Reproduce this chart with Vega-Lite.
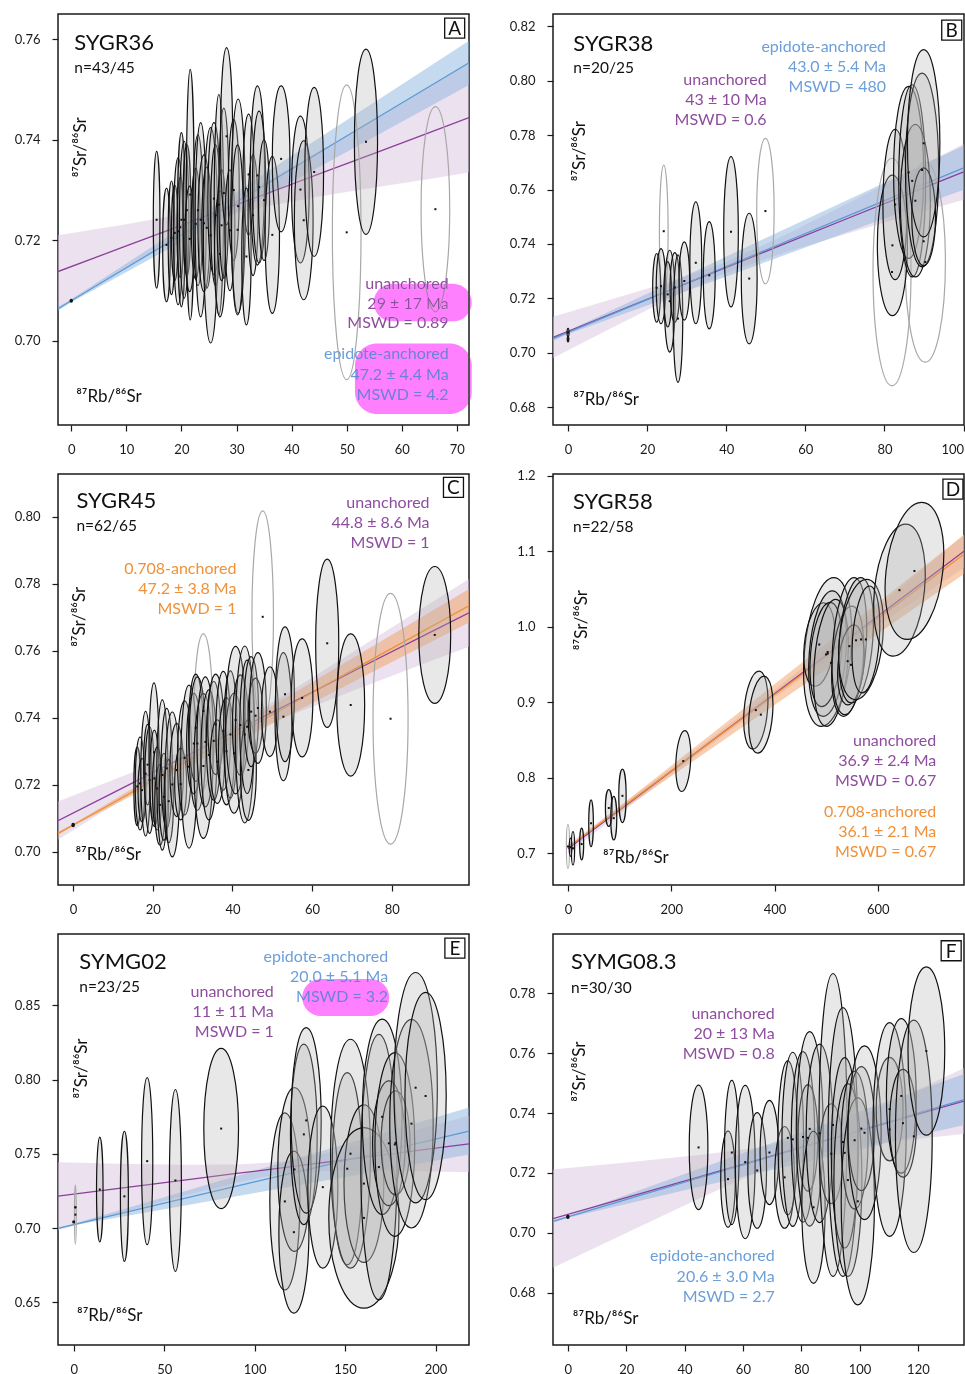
{
"$schema": "https://vega.github.io/schema/vega-lite/v6.json",
"background": "white",
"padding": {"left": 13, "top": 13, "right": 0, "bottom": 0},
"bounds": "flush",
"columns": 2,
"spacing": {"row": 49, "column": 84},
"datasets": {
"fits": [
{"p":"A","f":"u","x":-2.4,"y":0.7138,"lo":0.7066,"hi":0.7210},
{"p":"A","f":"u","x":10,"y":0.7189,"lo":0.7146,"hi":0.7232},
{"p":"A","f":"u","x":20,"y":0.7230,"lo":0.7208,"hi":0.7252},
{"p":"A","f":"u","x":27,"y":0.7259,"lo":0.7244,"hi":0.7274},
{"p":"A","f":"u","x":35,"y":0.7291,"lo":0.7267,"hi":0.7315},
{"p":"A","f":"u","x":45,"y":0.7332,"lo":0.7287,"hi":0.7377},
{"p":"A","f":"u","x":55,"y":0.7373,"lo":0.7305,"hi":0.7441},
{"p":"A","f":"u","x":65,"y":0.7414,"lo":0.7322,"hi":0.7506},
{"p":"A","f":"u","x":72.2,"y":0.7444,"lo":0.7335,"hi":0.7553},
{"p":"A","f":"e","x":-2.4,"y":0.7064,"lo":0.7060,"hi":0.7068},
{"p":"A","f":"e","x":0,"y":0.7080,"lo":0.7077,"hi":0.7083},
{"p":"A","f":"e","x":20,"y":0.7211,"lo":0.7197,"hi":0.7225},
{"p":"A","f":"e","x":40,"y":0.7342,"lo":0.7316,"hi":0.7368},
{"p":"A","f":"e","x":60,"y":0.7473,"lo":0.7436,"hi":0.7510},
{"p":"A","f":"e","x":72.2,"y":0.7553,"lo":0.7509,"hi":0.7597},
{"p":"B","f":"u","x":-3.8,"y":0.7057,"lo":0.6981,"hi":0.7133},
{"p":"B","f":"u","x":10,"y":0.7138,"lo":0.7084,"hi":0.7192},
{"p":"B","f":"u","x":25,"y":0.7226,"lo":0.7194,"hi":0.7258},
{"p":"B","f":"u","x":40,"y":0.7314,"lo":0.7294,"hi":0.7334},
{"p":"B","f":"u","x":55,"y":0.7402,"lo":0.7370,"hi":0.7434},
{"p":"B","f":"u","x":70,"y":0.7490,"lo":0.7436,"hi":0.7544},
{"p":"B","f":"u","x":85,"y":0.7578,"lo":0.7500,"hi":0.7656},
{"p":"B","f":"u","x":100,"y":0.7665,"lo":0.7563,"hi":0.7767},
{"p":"B","f":"e","x":-3.8,"y":0.7052,"lo":0.7044,"hi":0.7060},
{"p":"B","f":"e","x":0,"y":0.7075,"lo":0.7069,"hi":0.7081},
{"p":"B","f":"e","x":25,"y":0.7226,"lo":0.7201,"hi":0.7251},
{"p":"B","f":"e","x":50,"y":0.7378,"lo":0.7334,"hi":0.7422},
{"p":"B","f":"e","x":75,"y":0.7529,"lo":0.7467,"hi":0.7591},
{"p":"B","f":"e","x":100,"y":0.7680,"lo":0.7599,"hi":0.7761},
{"p":"C","f":"u","x":-3.8,"y":0.7093,"lo":0.7036,"hi":0.7150},
{"p":"C","f":"u","x":10,"y":0.7176,"lo":0.7138,"hi":0.7214},
{"p":"C","f":"u","x":20,"y":0.7236,"lo":0.7211,"hi":0.7261},
{"p":"C","f":"u","x":33,"y":0.7314,"lo":0.7299,"hi":0.7329},
{"p":"C","f":"u","x":45,"y":0.7386,"lo":0.7363,"hi":0.7409},
{"p":"C","f":"u","x":60,"y":0.7476,"lo":0.7433,"hi":0.7519},
{"p":"C","f":"u","x":75,"y":0.7567,"lo":0.7502,"hi":0.7632},
{"p":"C","f":"u","x":90,"y":0.7657,"lo":0.7570,"hi":0.7744},
{"p":"C","f":"u","x":99.4,"y":0.7713,"lo":0.7612,"hi":0.7814},
{"p":"C","f":"o","x":-3.8,"y":0.7055,"lo":0.7050,"hi":0.7060},
{"p":"C","f":"o","x":0,"y":0.7080,"lo":0.7077,"hi":0.7083},
{"p":"C","f":"o","x":25,"y":0.7245,"lo":0.7230,"hi":0.7260},
{"p":"C","f":"o","x":50,"y":0.7409,"lo":0.7382,"hi":0.7436},
{"p":"C","f":"o","x":75,"y":0.7574,"lo":0.7536,"hi":0.7612},
{"p":"C","f":"o","x":99.4,"y":0.7734,"lo":0.7684,"hi":0.7784},
{"p":"D","f":"u","x":0,"y":0.7060,"lo":0.7000,"hi":0.7120},
{"p":"D","f":"u","x":200,"y":0.8086,"lo":0.8046,"hi":0.8126},
{"p":"D","f":"u","x":400,"y":0.9112,"lo":0.9062,"hi":0.9162},
{"p":"D","f":"u","x":600,"y":1.0138,"lo":1.0018,"hi":1.0258},
{"p":"D","f":"u","x":767,"y":1.1000,"lo":1.0780,"hi":1.1220},
{"p":"D","f":"o","x":0,"y":0.7080,"lo":0.7075,"hi":0.7085},
{"p":"D","f":"o","x":200,"y":0.8090,"lo":0.8020,"hi":0.8160},
{"p":"D","f":"o","x":400,"y":0.9100,"lo":0.8963,"hi":0.9237},
{"p":"D","f":"o","x":600,"y":1.0110,"lo":0.9906,"hi":1.0314},
{"p":"D","f":"o","x":767,"y":1.0960,"lo":1.0700,"hi":1.1220},
{"p":"E","f":"u","x":-8.7,"y":0.7215,"lo":0.6986,"hi":0.7444},
{"p":"E","f":"u","x":25,"y":0.7267,"lo":0.7101,"hi":0.7433},
{"p":"E","f":"u","x":60,"y":0.7321,"lo":0.7215,"hi":0.7427},
{"p":"E","f":"u","x":90,"y":0.7368,"lo":0.7308,"hi":0.7428},
{"p":"E","f":"u","x":115,"y":0.7406,"lo":0.7366,"hi":0.7446},
{"p":"E","f":"u","x":140,"y":0.7445,"lo":0.7385,"hi":0.7505},
{"p":"E","f":"u","x":170,"y":0.7491,"lo":0.7385,"hi":0.7597},
{"p":"E","f":"u","x":200,"y":0.7538,"lo":0.7381,"hi":0.7695},
{"p":"E","f":"u","x":218.5,"y":0.7567,"lo":0.7377,"hi":0.7757},
{"p":"E","f":"e","x":-8.7,"y":0.6999,"lo":0.6994,"hi":0.7004},
{"p":"E","f":"e","x":0,"y":0.7024,"lo":0.7019,"hi":0.7029},
{"p":"E","f":"e","x":50,"y":0.7168,"lo":0.7128,"hi":0.7208},
{"p":"E","f":"e","x":100,"y":0.7311,"lo":0.7236,"hi":0.7386},
{"p":"E","f":"e","x":150,"y":0.7455,"lo":0.7345,"hi":0.7565},
{"p":"E","f":"e","x":218.5,"y":0.7653,"lo":0.7495,"hi":0.7811},
{"p":"F","f":"u","x":-5.1,"y":0.7047,"lo":0.6883,"hi":0.7211},
{"p":"F","f":"u","x":20,"y":0.7117,"lo":0.6999,"hi":0.7235},
{"p":"F","f":"u","x":45,"y":0.7187,"lo":0.7114,"hi":0.7260},
{"p":"F","f":"u","x":65,"y":0.7243,"lo":0.7202,"hi":0.7284},
{"p":"F","f":"u","x":80,"y":0.7285,"lo":0.7255,"hi":0.7315},
{"p":"F","f":"u","x":100,"y":0.7340,"lo":0.7292,"hi":0.7388},
{"p":"F","f":"u","x":120,"y":0.7396,"lo":0.7314,"hi":0.7478},
{"p":"F","f":"u","x":135.8,"y":0.7440,"lo":0.7330,"hi":0.7550},
{"p":"F","f":"e","x":-5.1,"y":0.7038,"lo":0.7033,"hi":0.7043},
{"p":"F","f":"e","x":0,"y":0.7053,"lo":0.7050,"hi":0.7056},
{"p":"F","f":"e","x":40,"y":0.7169,"lo":0.7142,"hi":0.7196},
{"p":"F","f":"e","x":80,"y":0.7284,"lo":0.7233,"hi":0.7335},
{"p":"F","f":"e","x":120,"y":0.7400,"lo":0.7325,"hi":0.7475},
{"p":"F","f":"e","x":135.8,"y":0.7445,"lo":0.7360,"hi":0.7530}
],
"ell": [
{"p":"A","e":1,"i":0,"x":50,"y":0.7216,"px":[50,52.6,50,47.4],"py":[0.7509,0.7216,0.6923,0.7216]},
{"p":"A","e":2,"i":0,"x":66.1,"y":0.7262,"px":[66.1,68.7,66.1,63.5],"py":[0.7466,0.7262,0.7058,0.7262]},
{"p":"A","e":3,"i":1,"x":0,"y":0.708,"px":[0,0.2,0,-0.2],"py":[0.7083,0.708,0.7077,0.708]},
{"p":"A","e":4,"i":1,"x":15.5,"y":0.7241,"px":[15.5,16.1,15.5,14.9],"py":[0.7377,0.7241,0.7105,0.7241]},
{"p":"A","e":5,"i":1,"x":17.3,"y":0.7191,"px":[17.3,18.0,17.3,16.6],"py":[0.7304,0.7191,0.7078,0.7191]},
{"p":"A","e":6,"i":1,"x":18.2,"y":0.7205,"px":[18.2,18.8,18.2,17.6],"py":[0.7318,0.7205,0.7092,0.7205]},
{"p":"A","e":7,"i":1,"x":18.8,"y":0.7215,"px":[18.8,19.4,18.8,18.2],"py":[0.7310,0.7215,0.7120,0.7215]},
{"p":"A","e":8,"i":1,"x":19.4,"y":0.7218,"px":[19.4,20.25,19.4,18.55],"py":[0.7364,0.7218,0.7072,0.7218]},
{"p":"A","e":9,"i":1,"x":19.8,"y":0.7226,"px":[19.8,20.4,19.8,19.2],"py":[0.7326,0.7226,0.7126,0.7226]},
{"p":"A","e":10,"i":1,"x":20.0,"y":0.7241,"px":[20,20.7,20,19.3],"py":[0.7414,0.7241,0.7068,0.7241]},
{"p":"A","e":11,"i":1,"x":20.5,"y":0.7241,"px":[20.5,21.35,20.5,19.65],"py":[0.7397,0.7241,0.7085,0.7241]},
{"p":"A","e":12,"i":1,"x":21.0,"y":0.726,"px":[21,21.7,21,20.3],"py":[0.739,0.726,0.713,0.726]},
{"p":"A","e":13,"i":1,"x":21.6,"y":0.7291,"px":[21.6,22.3,21.6,20.9],"py":[0.754,0.7291,0.7042,0.7291]},
{"p":"A","e":14,"i":1,"x":21.5,"y":0.7203,"px":[21.5,22.35,21.5,20.65],"py":[0.7308,0.7203,0.7098,0.7203]},
{"p":"A","e":15,"i":1,"x":22.6,"y":0.7233,"px":[22.6,23.4,22.6,21.8],"py":[0.7343,0.7233,0.7123,0.7233]},
{"p":"A","e":16,"i":1,"x":23.0,"y":0.726,"px":[23,23.9,23,22.1],"py":[0.741,0.726,0.711,0.726]},
{"p":"A","e":17,"i":1,"x":23.5,"y":0.7241,"px":[23.5,24.5,23.5,22.5],"py":[0.7434,0.7241,0.7048,0.7241]},
{"p":"A","e":18,"i":1,"x":24.1,"y":0.7234,"px":[24.1,25.2,24.1,23.0],"py":[0.737,0.7234,0.7098,0.7234]},
{"p":"A","e":19,"i":1,"x":24.6,"y":0.7225,"px":[24.6,25.5,24.6,23.7],"py":[0.7345,0.7225,0.7105,0.7225]},
{"p":"A","e":20,"i":1,"x":25.3,"y":0.721,"px":[25.3,26.6,25.3,24.0],"py":[0.7424,0.721,0.6996,0.721]},
{"p":"A","e":21,"i":1,"x":25.9,"y":0.7283,"px":[25.9,27.0,25.9,24.8],"py":[0.7434,0.7283,0.7132,0.7283]},
{"p":"A","e":22,"i":1,"x":26.2,"y":0.725,"px":[26.2,27.1,26.2,25.3],"py":[0.739,0.725,0.711,0.725]},
{"p":"A","e":23,"i":1,"x":26.8,"y":0.7271,"px":[26.8,27.65,26.8,25.95],"py":[0.749,0.7271,0.7052,0.7271]},
{"p":"A","e":24,"i":1,"x":27.0,"y":0.7173,"px":[27,28,27,26],"py":[0.7298,0.7173,0.7048,0.7173]},
{"p":"A","e":25,"i":1,"x":27.3,"y":0.723,"px":[27.3,28.1,27.3,26.5],"py":[0.734,0.723,0.712,0.723]},
{"p":"A","e":26,"i":1,"x":27.7,"y":0.7294,"px":[27.7,28.6,27.7,26.8],"py":[0.7463,0.7294,0.7125,0.7294]},
{"p":"A","e":27,"i":1,"x":28.2,"y":0.7407,"px":[28.2,29.3,28.2,27.1],"py":[0.7583,0.7407,0.7231,0.7407]},
{"p":"A","e":28,"i":1,"x":28.8,"y":0.722,"px":[28.8,29.7,28.8,27.9],"py":[0.734,0.722,0.71,0.722]},
{"p":"A","e":29,"i":1,"x":29.5,"y":0.73,"px":[29.5,30.5,29.5,28.5],"py":[0.744,0.73,0.716,0.73]},
{"p":"A","e":30,"i":1,"x":30.3,"y":0.7268,"px":[30.3,31.6,30.3,29.0],"py":[0.7481,0.7268,0.7055,0.7268]},
{"p":"A","e":31,"i":1,"x":30.2,"y":0.7221,"px":[30.2,31.3,30.2,29.1],"py":[0.739,0.7221,0.7052,0.7221]},
{"p":"A","e":32,"i":1,"x":32.2,"y":0.7331,"px":[32.2,33.2,32.2,31.2],"py":[0.7451,0.7331,0.7211,0.7331]},
{"p":"A","e":33,"i":1,"x":31.8,"y":0.7168,"px":[31.8,32.65,31.8,30.95],"py":[0.7304,0.7168,0.7032,0.7168]},
{"p":"A","e":34,"i":1,"x":33.0,"y":0.725,"px":[33,33.9,33,32.1],"py":[0.737,0.725,0.713,0.725]},
{"p":"A","e":35,"i":1,"x":33.8,"y":0.7329,"px":[33.8,35.1,33.8,32.5],"py":[0.7507,0.7329,0.7151,0.7329]},
{"p":"A","e":36,"i":1,"x":34.1,"y":0.7306,"px":[34.1,35.3,34.1,32.9],"py":[0.7457,0.7306,0.7155,0.7306]},
{"p":"A","e":37,"i":1,"x":35.0,"y":0.728,"px":[35,36,35,34],"py":[0.74,0.728,0.716,0.728]},
{"p":"A","e":38,"i":1,"x":36.5,"y":0.7211,"px":[36.5,37.8,36.5,35.2],"py":[0.7367,0.7211,0.7055,0.7211]},
{"p":"A","e":39,"i":1,"x":38.1,"y":0.7362,"px":[38.1,39.7,38.1,36.5],"py":[0.7507,0.7362,0.7217,0.7362]},
{"p":"A","e":40,"i":1,"x":41.6,"y":0.7301,"px":[41.6,43.2,41.6,40.0],"py":[0.7447,0.7301,0.7155,0.7301]},
{"p":"A","e":41,"i":1,"x":42.2,"y":0.724,"px":[42.2,43.9,42.2,40.5],"py":[0.7398,0.724,0.7082,0.724]},
{"p":"A","e":42,"i":1,"x":44.1,"y":0.7336,"px":[44.1,45.8,44.1,42.4],"py":[0.7504,0.7336,0.7168,0.7336]},
{"p":"A","e":43,"i":1,"x":53.5,"y":0.7396,"px":[53.5,55.6,53.5,51.4],"py":[0.758,0.7396,0.7212,0.7396]},
{"p":"B","e":1,"i":0,"x":24.2,"y":0.7447,"px":[24.2,25.3,24.2,23.1],"py":[0.769,0.7447,0.7204,0.7447]},
{"p":"B","e":2,"i":0,"x":49.9,"y":0.7521,"px":[49.9,52.1,49.9,47.7],"py":[0.7788,0.7521,0.7254,0.7521]},
{"p":"B","e":3,"i":0,"x":81.9,"y":0.7297,"px":[81.9,86.7,81.9,77.1],"py":[0.7715,0.7297,0.6879,0.7297]},
{"p":"B","e":4,"i":0,"x":90.3,"y":0.7334,"px":[90.3,95.4,90.3,85.2],"py":[0.7702,0.7334,0.6966,0.7334]},
{"p":"B","e":5,"i":1,"x":0,"y":0.7075,"px":[0,0.25,0,-0.25],"py":[0.709,0.7075,0.706,0.7075]},
{"p":"B","e":6,"i":1,"x":0,"y":0.705,"px":[0,0.2,0,-0.2],"py":[0.706,0.705,0.704,0.705]},
{"p":"B","e":7,"i":1,"x":22.4,"y":0.7239,"px":[22.4,23.4,22.4,21.4],"py":[0.7365,0.7239,0.7113,0.7239]},
{"p":"B","e":8,"i":1,"x":23.5,"y":0.7245,"px":[23.5,24.7,23.5,22.3],"py":[0.7383,0.7245,0.7107,0.7245]},
{"p":"B","e":9,"i":1,"x":25.7,"y":0.719,"px":[25.7,27.05,25.7,24.35],"py":[0.7377,0.719,0.7003,0.719]},
{"p":"B","e":10,"i":1,"x":25.2,"y":0.7215,"px":[25.2,26.2,25.2,24.2],"py":[0.7335,0.7215,0.7095,0.7215]},
{"p":"B","e":11,"i":1,"x":27.0,"y":0.724,"px":[27,28.2,27,25.8],"py":[0.7368,0.724,0.7112,0.724]},
{"p":"B","e":12,"i":1,"x":27.8,"y":0.7126,"px":[27.8,29,27.8,26.6],"py":[0.736,0.7126,0.6892,0.7126]},
{"p":"B","e":13,"i":1,"x":29.4,"y":0.7264,"px":[29.4,30.75,29.4,28.05],"py":[0.7408,0.7264,0.712,0.7264]},
{"p":"B","e":14,"i":1,"x":32.3,"y":0.7331,"px":[32.3,33.8,32.3,30.8],"py":[0.7555,0.7331,0.7107,0.7331]},
{"p":"B","e":15,"i":1,"x":35.7,"y":0.7285,"px":[35.7,37.2,35.7,34.2],"py":[0.7482,0.7285,0.7088,0.7285]},
{"p":"B","e":16,"i":1,"x":41.2,"y":0.7445,"px":[41.2,43.05,41.2,39.35],"py":[0.7721,0.7445,0.7169,0.7445]},
{"p":"B","e":17,"i":1,"x":45.8,"y":0.7273,"px":[45.8,47.8,45.8,43.8],"py":[0.7513,0.7273,0.7033,0.7273]},
{"p":"B","e":18,"i":1,"x":82.0,"y":0.7395,"px":[82,85.8,82,78.2],"py":[0.7653,0.7395,0.7137,0.7395]},
{"p":"B","e":19,"i":1,"x":82.7,"y":0.7545,"px":[82.7,85.8,82.7,79.6],"py":[0.7821,0.7545,0.7269,0.7545]},
{"p":"B","e":20,"i":1,"x":86.1,"y":0.7663,"px":[86.1,89.9,86.1,82.3],"py":[0.7979,0.7663,0.7347,0.7663]},
{"p":"B","e":21,"i":1,"x":87.0,"y":0.7632,"px":[87,90.4,87,83.6],"py":[0.7985,0.7632,0.7279,0.7632]},
{"p":"B","e":22,"i":1,"x":87.8,"y":0.7559,"px":[87.8,91.6,87.8,84],"py":[0.7839,0.7559,0.7279,0.7559]},
{"p":"B","e":23,"i":1,"x":89.5,"y":0.7672,"px":[89.5,93.7,89.5,85.3],"py":[0.8028,0.7672,0.7316,0.7672]},
{"p":"B","e":24,"i":1,"x":89.9,"y":0.741,"px":[89.9,92.9,89.9,86.9],"py":[0.768,0.75,0.732,0.75]},
{"p":"B","e":25,"i":1,"x":89.9,"y":0.777,"px":[89.9,94,89.9,85.8],"py":[0.8114,0.777,0.7426,0.777]},
{"p":"C","e":1,"i":0,"x":32.7,"y":0.742,"px":[32.7,35,32.7,30.4],"py":[0.765,0.742,0.719,0.742]},
{"p":"C","e":2,"i":0,"x":47.6,"y":0.7701,"px":[47.6,50.3,47.6,44.9],"py":[0.8017,0.7701,0.7385,0.7701]},
{"p":"C","e":3,"i":0,"x":79.7,"y":0.7397,"px":[79.7,84.1,79.7,75.3],"py":[0.7771,0.7397,0.7023,0.7397]},
{"p":"C","e":4,"i":1,"x":0,"y":0.708,"px":[0,0.3,0,-0.3],"py":[0.7085,0.708,0.7075,0.708]},
{"p":"C","e":5,"i":1,"x":16.1,"y":0.7195,"px":[16.1,16.95,16.1,15.25],"py":[0.7312,0.7195,0.7078,0.7195]},
{"p":"C","e":6,"i":1,"x":16.8,"y":0.7204,"px":[16.8,18,16.8,15.6],"py":[0.7343,0.7204,0.7065,0.7204]},
{"p":"C","e":7,"i":1,"x":17.3,"y":0.7184,"px":[17.3,18.3,17.3,16.3],"py":[0.7279,0.7184,0.7089,0.7184]},
{"p":"C","e":8,"i":1,"x":18.2,"y":0.7233,"px":[18.2,19.4,18.2,17],"py":[0.7419,0.7233,0.7047,0.7233]},
{"p":"C","e":9,"i":1,"x":18.7,"y":0.726,"px":[18.7,19.7,18.7,17.7],"py":[0.738,0.726,0.714,0.726]},
{"p":"C","e":10,"i":1,"x":19.2,"y":0.7214,"px":[19.2,20.4,19.2,18],"py":[0.7373,0.7214,0.7055,0.7214]},
{"p":"C","e":11,"i":1,"x":20.3,"y":0.7297,"px":[20.3,21.55,20.3,19.05],"py":[0.7504,0.7297,0.709,0.7297]},
{"p":"C","e":12,"i":1,"x":20.4,"y":0.7219,"px":[20.4,21.6,20.4,19.2],"py":[0.7363,0.7219,0.7075,0.7219]},
{"p":"C","e":13,"i":1,"x":21.1,"y":0.7189,"px":[21.1,22.3,21.1,19.9],"py":[0.7313,0.7189,0.7065,0.7189]},
{"p":"C","e":14,"i":1,"x":21.8,"y":0.714,"px":[21.8,23.1,21.8,20.5],"py":[0.726,0.714,0.702,0.714]},
{"p":"C","e":15,"i":1,"x":22.4,"y":0.7229,"px":[22.4,23.8,22.4,21],"py":[0.7453,0.7229,0.7005,0.7229]},
{"p":"C","e":16,"i":1,"x":22.8,"y":0.7164,"px":[22.8,24,22.8,21.6],"py":[0.7294,0.7164,0.7034,0.7164]},
{"p":"C","e":17,"i":1,"x":23.5,"y":0.7249,"px":[23.5,24.9,23.5,22.1],"py":[0.7428,0.7249,0.707,0.7249]},
{"p":"C","e":18,"i":1,"x":24.0,"y":0.7151,"px":[24,25.2,24,22.8],"py":[0.7275,0.7151,0.7027,0.7151]},
{"p":"C","e":19,"i":1,"x":24.9,"y":0.7201,"px":[24.9,26.75,24.9,23.05],"py":[0.7417,0.7201,0.6985,0.7201]},
{"p":"C","e":20,"i":1,"x":26.0,"y":0.7244,"px":[26,27.7,26,24.3],"py":[0.7383,0.7244,0.7105,0.7244]},
{"p":"C","e":21,"i":1,"x":27.0,"y":0.7202,"px":[27,28.5,27,25.5],"py":[0.7309,0.7202,0.7095,0.7202]},
{"p":"C","e":22,"i":1,"x":28.0,"y":0.728,"px":[28,29.8,28,26.2],"py":[0.745,0.728,0.711,0.728]},
{"p":"C","e":23,"i":1,"x":29.1,"y":0.7254,"px":[29.1,31.2,29.1,27],"py":[0.7497,0.7254,0.7011,0.7254]},
{"p":"C","e":24,"i":1,"x":30.3,"y":0.7323,"px":[30.3,32.1,30.3,28.5],"py":[0.7473,0.7323,0.7173,0.7323]},
{"p":"C","e":25,"i":1,"x":30.8,"y":0.737,"px":[30.8,32.6,30.8,29],"py":[0.753,0.737,0.721,0.737]},
{"p":"C","e":26,"i":1,"x":31.2,"y":0.7323,"px":[31.2,33.3,31.2,29.1],"py":[0.7522,0.7323,0.7124,0.7323]},
{"p":"C","e":27,"i":1,"x":32.7,"y":0.7256,"px":[32.7,35.05,32.7,30.35],"py":[0.7472,0.7256,0.704,0.7256]},
{"p":"C","e":28,"i":1,"x":33.2,"y":0.7328,"px":[33.2,35.3,33.2,31.1],"py":[0.7522,0.7328,0.7134,0.7328]},
{"p":"C","e":29,"i":1,"x":34.1,"y":0.7289,"px":[34.1,36.1,34.1,32.1],"py":[0.7483,0.7289,0.7095,0.7289]},
{"p":"C","e":30,"i":1,"x":35.3,"y":0.7331,"px":[35.3,37.15,35.3,33.45],"py":[0.7508,0.7331,0.7154,0.7331]},
{"p":"C","e":31,"i":1,"x":35.8,"y":0.738,"px":[35.8,37.8,35.8,33.8],"py":[0.753,0.738,0.723,0.738]},
{"p":"C","e":32,"i":1,"x":36.2,"y":0.7269,"px":[36.2,38,36.2,34.4],"py":[0.7394,0.7269,0.7144,0.7269]},
{"p":"C","e":33,"i":1,"x":37.7,"y":0.7361,"px":[37.7,39.55,37.7,35.85],"py":[0.7538,0.7361,0.7184,0.7361]},
{"p":"C","e":34,"i":1,"x":38.5,"y":0.73,"px":[38.5,40.5,38.5,36.5],"py":[0.746,0.73,0.714,0.73]},
{"p":"C","e":35,"i":1,"x":39.5,"y":0.735,"px":[39.5,41.2,39.5,37.8],"py":[0.754,0.735,0.716,0.735]},
{"p":"C","e":36,"i":1,"x":40.4,"y":0.7294,"px":[40.4,42.75,40.4,38.05],"py":[0.7473,0.7294,0.7115,0.7294]},
{"p":"C","e":37,"i":1,"x":40.8,"y":0.7393,"px":[40.8,43.3,40.8,38.3],"py":[0.7613,0.7393,0.7173,0.7393]},
{"p":"C","e":38,"i":1,"x":42.0,"y":0.7378,"px":[42,44,42,40],"py":[0.7528,0.7378,0.7228,0.7378]},
{"p":"C","e":39,"i":1,"x":43.1,"y":0.735,"px":[43.1,45.45,43.1,40.75],"py":[0.7614,0.735,0.7086,0.735]},
{"p":"C","e":40,"i":1,"x":44.0,"y":0.7244,"px":[44,46,44,42],"py":[0.7394,0.7244,0.7094,0.7244]},
{"p":"C","e":41,"i":1,"x":43.7,"y":0.7373,"px":[43.7,45.55,43.7,41.85],"py":[0.7572,0.7373,0.7174,0.7373]},
{"p":"C","e":42,"i":1,"x":44.7,"y":0.7418,"px":[44.7,46.55,44.7,42.85],"py":[0.7582,0.7418,0.7254,0.7418]},
{"p":"C","e":43,"i":1,"x":45.8,"y":0.7406,"px":[45.8,47.65,45.8,43.95],"py":[0.7518,0.7406,0.7294,0.7406]},
{"p":"C","e":44,"i":1,"x":46.4,"y":0.7429,"px":[46.4,48.5,46.4,44.3],"py":[0.7594,0.7429,0.7264,0.7429]},
{"p":"C","e":45,"i":1,"x":49.4,"y":0.7418,"px":[49.4,51.5,49.4,47.3],"py":[0.7552,0.7418,0.7284,0.7418]},
{"p":"C","e":46,"i":1,"x":52.8,"y":0.7403,"px":[52.8,54.9,52.8,50.7],"py":[0.7594,0.7403,0.7212,0.7403]},
{"p":"C","e":47,"i":1,"x":53.2,"y":0.747,"px":[53.2,55.55,53.2,50.85],"py":[0.7671,0.747,0.7269,0.747]},
{"p":"C","e":48,"i":1,"x":57.5,"y":0.7459,"px":[57.5,60.2,57.5,54.8],"py":[0.7635,0.7459,0.7283,0.7459]},
{"p":"C","e":49,"i":1,"x":63.8,"y":0.7622,"px":[63.8,66.7,63.8,60.9],"py":[0.7873,0.7622,0.7371,0.7622]},
{"p":"C","e":50,"i":1,"x":69.7,"y":0.7438,"px":[69.7,73.2,69.7,66.2],"py":[0.765,0.7438,0.7226,0.7438]},
{"p":"C","e":51,"i":1,"x":90.8,"y":0.7647,"px":[90.8,94.8,90.8,86.8],"py":[0.7851,0.7647,0.7443,0.7647]},
{"p":"D","e":1,"i":0,"x":0,"y":0.709,"px":[0,3,0,-3],"py":[0.7379,0.709,0.6801,0.709]},
{"p":"D","e":2,"i":1,"x":9.7,"y":0.7066,"px":[9.7,12.9,9.7,6.5],"py":[0.7286,0.7066,0.6846,0.7066]},
{"p":"D","e":3,"i":1,"x":5,"y":0.708,"px":[5,7.5,5,2.5],"py":[0.72,0.708,0.696,0.708]},
{"p":"D","e":4,"i":1,"x":26.5,"y":0.7122,"px":[26.5,30.4,26.5,22.6],"py":[0.7332,0.7122,0.6912,0.7122]},
{"p":"D","e":5,"i":1,"x":44.7,"y":0.7398,"px":[44.7,49.2,44.7,40.2],"py":[0.7708,0.7398,0.7088,0.7398]},
{"p":"D","e":6,"i":1,"x":79,"y":0.76,"px":[79,85.5,79,72.5],"py":[0.7844,0.76,0.7356,0.76]},
{"p":"D","e":7,"i":1,"x":88.7,"y":0.7465,"px":[88.7,94.5,88.7,82.9],"py":[0.7753,0.7465,0.7177,0.7465]},
{"p":"D","e":8,"i":1,"x":105.5,"y":0.7761,"px":[105.5,112.6,105.5,98.4],"py":[0.8115,0.7761,0.7407,0.7761]},
{"p":"D","e":9,"i":1,"x":223.3,"y":0.8221,"px":[226.3,237.5,220.3,209.1],"py":[0.8624,0.8221,0.7818,0.8221]},
{"p":"D","e":10,"i":1,"x":363.8,"y":0.8896,"px":[369.8,386.5,357.8,341.1],"py":[0.9412,0.8896,0.838,0.8896]},
{"p":"D","e":11,"i":1,"x":373.5,"y":0.8836,"px":[379.5,396.2,367.5,350.8],"py":[0.9345,0.8836,0.8327,0.8836]},
{"p":"D","e":12,"i":1,"x":502.9,"y":0.9666,"px":[514.9,547.9,490.9,457.9],"py":[1.0651,0.9666,0.8681,0.9666]},
{"p":"D","e":13,"i":1,"x":486.7,"y":0.9765,"px":[494.7,515.7,478.7,457.7],"py":[1.0318,0.9765,0.9212,0.9765]},
{"p":"D","e":14,"i":1,"x":502.9,"y":0.9644,"px":[511.9,538.5,493.9,467.3],"py":[1.0474,0.9644,0.8814,0.9644]},
{"p":"D","e":15,"i":1,"x":499.7,"y":0.9633,"px":[507.7,529.7,491.7,469.7],"py":[1.0323,0.9633,0.8943,0.9633]},
{"p":"D","e":16,"i":1,"x":509.4,"y":0.9522,"px":[518.4,541.8,500.4,477.0],"py":[1.0362,0.9522,0.8682,0.9522]},
{"p":"D","e":17,"i":1,"x":541.7,"y":0.9544,"px":[549.7,571.7,533.7,511.7],"py":[1.0274,0.9544,0.8814,0.9544]},
{"p":"D","e":18,"i":1,"x":545,"y":0.9743,"px":[554,577.4,536,512.6],"py":[1.065,0.9743,0.8836,0.9743]},
{"p":"D","e":19,"i":1,"x":548,"y":0.9496,"px":[554,573,542,523],"py":[1.0026,0.9496,0.8966,0.9496]},
{"p":"D","e":20,"i":1,"x":557.9,"y":0.9821,"px":[566.9,590.3,548.9,525.5],"py":[1.0651,0.9821,0.8991,0.9821]},
{"p":"D","e":21,"i":1,"x":567.6,"y":0.9832,"px":[578.6,609.6,556.6,525.6],"py":[1.0628,0.9832,0.9036,0.9832]},
{"p":"D","e":22,"i":1,"x":577,"y":0.9832,"px":[584,603,570,551],"py":[1.054,0.9832,0.9124,0.9832]},
{"p":"D","e":23,"i":1,"x":642,"y":1.0485,"px":[654,690.5,630,593.5],"py":[1.1359,1.0485,0.9611,1.0485]},
{"p":"D","e":24,"i":1,"x":671,"y":1.0739,"px":[685,726,657,616],"py":[1.1646,1.0739,0.9832,1.0739]},
{"p":"E","e":1,"i":0,"x":0.9,"y":0.7091,"px":[0.9,1.4,0.9,0.4],"py":[0.7289,0.7091,0.6893,0.7091]},
{"p":"E","e":2,"i":1,"x":0,"y":0.7042,"px":[0,0.5,0,-0.5],"py":[0.7049,0.7042,0.7035,0.7042]},
{"p":"E","e":3,"i":1,"x":0.9,"y":0.714,"px":[0.9,1.2,0.9,0.6],"py":[0.7143,0.714,0.7137,0.714]},
{"p":"E","e":4,"i":1,"x":14.4,"y":0.726,"px":[14.4,16.2,14.4,12.6],"py":[0.7613,0.726,0.6907,0.726]},
{"p":"E","e":5,"i":1,"x":28,"y":0.7214,"px":[28,30.2,28,25.8],"py":[0.7652,0.7214,0.6776,0.7214]},
{"p":"E","e":6,"i":1,"x":40.6,"y":0.7451,"px":[40.6,43.7,40.6,37.5],"py":[0.8013,0.7451,0.6889,0.7451]},
{"p":"E","e":7,"i":1,"x":56.2,"y":0.7321,"px":[56.2,59.5,56.2,52.9],"py":[0.7933,0.7321,0.6709,0.7321]},
{"p":"E","e":8,"i":1,"x":81.5,"y":0.767,"px":[81.5,91.1,81.5,71.9],"py":[0.8209,0.767,0.7131,0.767]},
{"p":"E","e":9,"i":1,"x":116.7,"y":0.718,"px":[116.7,125,116.7,108.4],"py":[0.7776,0.718,0.6584,0.718]},
{"p":"E","e":10,"i":1,"x":122,"y":0.7395,"px":[122,131.2,122,112.8],"py":[0.7946,0.7395,0.6844,0.7395]},
{"p":"E","e":11,"i":1,"x":121.7,"y":0.6973,"px":[121.7,130,121.7,113.4],"py":[0.7518,0.6973,0.6428,0.6973]},
{"p":"E","e":12,"i":1,"x":127.2,"y":0.7631,"px":[127.2,134.6,127.2,119.8],"py":[0.8238,0.7631,0.7024,0.7631]},
{"p":"E","e":13,"i":1,"x":128.5,"y":0.7725,"px":[128.5,136.8,128.5,120.2],"py":[0.8349,0.7725,0.7101,0.7725]},
{"p":"E","e":14,"i":1,"x":137.7,"y":0.7276,"px":[137.7,146,137.7,129.4],"py":[0.7821,0.7276,0.6731,0.7276]},
{"p":"E","e":15,"i":1,"x":151.2,"y":0.74,"px":[151.2,159.5,151.2,142.9],"py":[0.8046,0.74,0.6754,0.74]},
{"p":"E","e":16,"i":1,"x":153,"y":0.7501,"px":[153,164,153,142],"py":[0.8271,0.7501,0.6731,0.7501]},
{"p":"E","e":17,"i":1,"x":160.4,"y":0.73,"px":[160.4,171.4,160.4,149.4],"py":[0.783,0.73,0.677,0.73]},
{"p":"E","e":18,"i":1,"x":160.4,"y":0.7069,"px":[160.4,179.8,160.4,141],"py":[0.7676,0.7069,0.6462,0.7069]},
{"p":"E","e":19,"i":1,"x":168.7,"y":0.7411,"px":[168.7,178.7,168.7,158.7],"py":[0.8304,0.7411,0.6518,0.7411]},
{"p":"E","e":20,"i":1,"x":170.5,"y":0.7749,"px":[170.5,181.5,170.5,159.5],"py":[0.8406,0.7749,0.7092,0.7749]},
{"p":"E","e":21,"i":1,"x":174.2,"y":0.7571,"px":[174.2,183.2,174.2,165.2],"py":[0.7991,0.7571,0.7151,0.7571]},
{"p":"E","e":22,"i":1,"x":177.9,"y":0.7574,"px":[177.9,185.9,177.9,169.9],"py":[0.7924,0.7574,0.7224,0.7574]},
{"p":"E","e":23,"i":1,"x":177.5,"y":0.7563,"px":[177.5,188.5,177.5,166.5],"py":[0.8181,0.7563,0.6945,0.7563]},
{"p":"E","e":24,"i":1,"x":186.7,"y":0.7703,"px":[186.7,198.7,186.7,174.7],"py":[0.8405,0.7703,0.7001,0.7703]},
{"p":"E","e":25,"i":1,"x":189,"y":0.7945,"px":[189,201,189,177],"py":[0.872,0.7945,0.717,0.7945]},
{"p":"E","e":26,"i":1,"x":194.5,"y":0.7889,"px":[194.5,205.9,194.5,183.1],"py":[0.8586,0.7889,0.7192,0.7889]},
{"p":"F","e":1,"i":1,"x":0,"y":0.7053,"px":[0,0.4,0,-0.4],"py":[0.7058,0.7053,0.7048,0.7053]},
{"p":"F","e":2,"i":1,"x":44.8,"y":0.7285,"px":[44.8,48,44.8,41.6],"py":[0.7493,0.7285,0.7077,0.7285]},
{"p":"F","e":3,"i":1,"x":54.9,"y":0.7179,"px":[54.9,57.4,54.9,52.4],"py":[0.734,0.7179,0.7018,0.7179]},
{"p":"F","e":4,"i":1,"x":56.2,"y":0.7268,"px":[56.2,58.7,56.2,53.7],"py":[0.7509,0.7268,0.7027,0.7268]},
{"p":"F","e":5,"i":1,"x":60.8,"y":0.7236,"px":[60.8,64.2,60.8,57.4],"py":[0.7492,0.7236,0.698,0.7236]},
{"p":"F","e":6,"i":1,"x":64.9,"y":0.7208,"px":[64.9,68.1,64.9,61.7],"py":[0.7401,0.7208,0.7015,0.7208]},
{"p":"F","e":7,"i":1,"x":69.1,"y":0.7268,"px":[69.1,72.3,69.1,65.9],"py":[0.7442,0.7268,0.7094,0.7268]},
{"p":"F","e":8,"i":1,"x":74.3,"y":0.7185,"px":[74.3,77.7,74.3,70.9],"py":[0.7355,0.7185,0.7015,0.7185]},
{"p":"F","e":9,"i":1,"x":75.4,"y":0.7317,"px":[75.4,78.8,75.4,72],"py":[0.7574,0.7317,0.706,0.7317]},
{"p":"F","e":10,"i":1,"x":77.1,"y":0.7312,"px":[77.1,80.8,77.1,73.4],"py":[0.7603,0.7312,0.7021,0.7312]},
{"p":"F","e":11,"i":1,"x":80.6,"y":0.732,"px":[80.6,84.6,80.6,76.6],"py":[0.7605,0.732,0.7035,0.732]},
{"p":"F","e":12,"i":1,"x":82.3,"y":0.7317,"px":[82.3,85.7,82.3,78.9],"py":[0.7495,0.7317,0.7139,0.7317]},
{"p":"F","e":13,"i":1,"x":82.9,"y":0.7347,"px":[82.9,87.5,82.9,78.3],"py":[0.7672,0.7347,0.7022,0.7347]},
{"p":"F","e":14,"i":1,"x":84.2,"y":0.7085,"px":[84.2,88.2,84.2,80.2],"py":[0.7339,0.7085,0.6831,0.7085]},
{"p":"F","e":15,"i":1,"x":86.3,"y":0.7332,"px":[86.3,90.9,86.3,81.7],"py":[0.763,0.7332,0.7034,0.7332]},
{"p":"F","e":16,"i":1,"x":90.3,"y":0.7264,"px":[90.3,94.3,90.3,86.3],"py":[0.7431,0.7264,0.7097,0.7264]},
{"p":"F","e":17,"i":1,"x":90.9,"y":0.736,"px":[90.9,95.7,90.9,86.1],"py":[0.7866,0.736,0.6854,0.736]},
{"p":"F","e":18,"i":1,"x":94.3,"y":0.7303,"px":[94.3,99.4,94.3,89.2],"py":[0.7752,0.7303,0.6854,0.7303]},
{"p":"F","e":19,"i":1,"x":94.9,"y":0.7267,"px":[94.9,99.5,94.9,90.3],"py":[0.7585,0.7267,0.6949,0.7267]},
{"p":"F","e":20,"i":1,"x":96,"y":0.7176,"px":[96,100.8,96,91.2],"py":[0.7498,0.7176,0.6854,0.7176]},
{"p":"F","e":21,"i":1,"x":98.3,"y":0.7309,"px":[98.3,102.9,98.3,93.7],"py":[0.7539,0.7309,0.7079,0.7309]},
{"p":"F","e":22,"i":1,"x":99.4,"y":0.7105,"px":[99.4,105.1,99.4,93.7],"py":[0.7451,0.7105,0.6759,0.7105]},
{"p":"F","e":23,"i":1,"x":100.6,"y":0.7348,"px":[100.6,105.2,100.6,96],"py":[0.7555,0.7348,0.7141,0.7348]},
{"p":"F","e":24,"i":1,"x":101.7,"y":0.7334,"px":[101.7,107.4,101.7,96],"py":[0.7624,0.7334,0.7044,0.7334]},
{"p":"F","e":25,"i":1,"x":110.3,"y":0.7413,"px":[110.3,114.9,110.3,105.7],"py":[0.7586,0.7413,0.724,0.7413]},
{"p":"F","e":26,"i":1,"x":110.3,"y":0.7345,"px":[110.3,116,110.3,104.6],"py":[0.7702,0.7345,0.6988,0.7345]},
{"p":"F","e":27,"i":1,"x":114.3,"y":0.7457,"px":[114.3,119.4,114.3,109.2],"py":[0.7715,0.7457,0.7199,0.7457]},
{"p":"F","e":28,"i":1,"x":114.9,"y":0.7366,"px":[114.9,119.5,114.9,110.3],"py":[0.7546,0.7366,0.7186,0.7366]},
{"p":"F","e":29,"i":1,"x":118.6,"y":0.7322,"px":[118.6,124.9,118.6,112.3],"py":[0.771,0.7322,0.6934,0.7322]},
{"p":"F","e":30,"i":1,"x":122.9,"y":0.7607,"px":[122.9,129.2,122.9,116.6],"py":[0.7888,0.7607,0.7326,0.7607]}
],
"hl": [
{"p":"A","xl":54.9,"xh":72.7,"yl":0.7039,"yh":0.7114},
{"p":"A","xl":51.5,"xh":72.7,"yl":0.6855,"yh":0.6995},
{"p":"E","xl":126.3,"xh":174.4,"yl":0.8428,"yh":0.8677}
],
"txt": [
{"p":"A","k":"name","t":"SYGR36","x":0.55,"y":0.7579},
{"p":"A","k":"n","t":"n=43/45","x":0.55,"y":0.7533},
{"p":"A","k":"yt","t":"⁸⁷Sr/⁸⁶Sr","x":1.8,"y":0.7385},
{"p":"A","k":"xt","t":"⁸⁷Rb/⁸⁶Sr","x":0.9,"y":0.6879},
{"p":"A","k":"ann","f":"u","t":"unanchored","x":68.5,"y":0.7104},
{"p":"A","k":"ann","f":"u","t":"29 ± 17 Ma","x":68.5,"y":0.7064},
{"p":"A","k":"ann","f":"u","t":"MSWD = 0.89","x":68.5,"y":0.7026},
{"p":"A","k":"ann","f":"e","t":"epidote-anchored","x":68.5,"y":0.6965},
{"p":"A","k":"ann","f":"e","t":"47.2 ± 4.4 Ma","x":68.5,"y":0.6923},
{"p":"A","k":"ann","f":"e","t":"MSWD = 4.2","x":68.5,"y":0.6883},
{"p":"A","k":"box","t":"A","x":69.6,"y":0.7622},
{"p":"B","k":"name","t":"SYGR38","x":1.34,"y":0.8109},
{"p":"B","k":"n","t":"n=20/25","x":1.34,"y":0.8028},
{"p":"B","k":"yt","t":"⁸⁷Sr/⁸⁶Sr","x":2.9,"y":0.7741},
{"p":"B","k":"xt","t":"⁸⁷Rb/⁸⁶Sr","x":1.34,"y":0.6808},
{"p":"B","k":"ann","f":"u","t":"unanchored","x":50.2,"y":0.7984},
{"p":"B","k":"ann","f":"u","t":"43 ± 10 Ma","x":50.2,"y":0.7910},
{"p":"B","k":"ann","f":"u","t":"MSWD = 0.6","x":50.2,"y":0.7836},
{"p":"B","k":"ann","f":"e","t":"epidote-anchored","x":80.4,"y":0.8105},
{"p":"B","k":"ann","f":"e","t":"43.0 ± 5.4 Ma","x":80.4,"y":0.8032},
{"p":"B","k":"ann","f":"e","t":"MSWD = 480","x":80.4,"y":0.7958},
{"p":"B","k":"box","t":"B","x":97.0,"y":0.8186},
{"p":"C","k":"name","t":"SYGR45","x":0.83,"y":0.8026},
{"p":"C","k":"n","t":"n=62/65","x":0.83,"y":0.7957},
{"p":"C","k":"yt","t":"⁸⁷Sr/⁸⁶Sr","x":1.83,"y":0.7701},
{"p":"C","k":"xt","t":"⁸⁷Rb/⁸⁶Sr","x":0.58,"y":0.6975},
{"p":"C","k":"ann","f":"u","t":"unanchored","x":89.5,"y":0.8025},
{"p":"C","k":"ann","f":"u","t":"44.8 ± 8.6 Ma","x":89.5,"y":0.7965},
{"p":"C","k":"ann","f":"u","t":"MSWD = 1","x":89.5,"y":0.7906},
{"p":"C","k":"ann","f":"o","t":"0.708-anchored","x":41.0,"y":0.7829},
{"p":"C","k":"ann","f":"o","t":"47.2 ± 3.8 Ma","x":41.0,"y":0.7769},
{"p":"C","k":"ann","f":"o","t":"MSWD = 1","x":41.0,"y":0.7710},
{"p":"C","k":"box","t":"C","x":95.5,"y":0.8087},
{"p":"D","k":"name","t":"SYGR58","x":9.7,"y":1.1566},
{"p":"D","k":"n","t":"n=22/58","x":9.7,"y":1.1261},
{"p":"D","k":"yt","t":"⁸⁷Sr/⁸⁶Sr","x":27.2,"y":1.0088},
{"p":"D","k":"xt","t":"⁸⁷Rb/⁸⁶Sr","x":68,"y":0.6876},
{"p":"D","k":"ann","f":"u","t":"unanchored","x":713.3,"y":0.8416},
{"p":"D","k":"ann","f":"u","t":"36.9 ± 2.4 Ma","x":713.3,"y":0.8150},
{"p":"D","k":"ann","f":"u","t":"MSWD = 0.67","x":713.3,"y":0.7885},
{"p":"D","k":"ann","f":"o","t":"0.708-anchored","x":713.3,"y":0.7487},
{"p":"D","k":"ann","f":"o","t":"36.1 ± 2.1 Ma","x":713.3,"y":0.7221},
{"p":"D","k":"ann","f":"o","t":"MSWD = 0.67","x":713.3,"y":0.6956},
{"p":"D","k":"box","t":"D","x":745.6,"y":1.1823},
{"p":"E","k":"name","t":"SYMG02","x":3.1,"y":0.8743},
{"p":"E","k":"n","t":"n=23/25","x":3.1,"y":0.8590},
{"p":"E","k":"yt","t":"⁸⁷Sr/⁸⁶Sr","x":4.6,"y":0.8074},
{"p":"E","k":"xt","t":"⁸⁷Rb/⁸⁶Sr","x":1.8,"y":0.6376},
{"p":"E","k":"ann","f":"u","t":"unanchored","x":110.6,"y":0.8556},
{"p":"E","k":"ann","f":"u","t":"11 ± 11 Ma","x":110.6,"y":0.8421},
{"p":"E","k":"ann","f":"u","t":"MSWD = 1","x":110.6,"y":0.8286},
{"p":"E","k":"ann","f":"e","t":"epidote-anchored","x":173.8,"y":0.8792},
{"p":"E","k":"ann","f":"e","t":"20.0 ± 5.1 Ma","x":173.8,"y":0.8657},
{"p":"E","k":"ann","f":"e","t":"MSWD = 3.2","x":173.8,"y":0.8522},
{"p":"E","k":"box","t":"E","x":210.7,"y":0.8884},
{"p":"F","k":"name","t":"SYMG08.3","x":1.1,"y":0.7880},
{"p":"F","k":"n","t":"n=30/30","x":1.1,"y":0.7802},
{"p":"F","k":"yt","t":"⁸⁷Sr/⁸⁶Sr","x":4.0,"y":0.7538},
{"p":"F","k":"xt","t":"⁸⁷Rb/⁸⁶Sr","x":1.7,"y":0.6694},
{"p":"F","k":"ann","f":"u","t":"unanchored","x":70.9,"y":0.7713},
{"p":"F","k":"ann","f":"u","t":"20 ± 13 Ma","x":70.9,"y":0.7646},
{"p":"F","k":"ann","f":"u","t":"MSWD = 0.8","x":70.9,"y":0.7581},
{"p":"F","k":"ann","f":"e","t":"epidote-anchored","x":70.9,"y":0.6904},
{"p":"F","k":"ann","f":"e","t":"20.6 ± 3.0 Ma","x":70.9,"y":0.6837},
{"p":"F","k":"ann","f":"e","t":"MSWD = 2.7","x":70.9,"y":0.6770},
{"p":"F","k":"box","t":"F","x":131.4,"y":0.7942}
]
},
"concat": [
{"width":411,"height":411,"layer":[
{"data":{"name":"fits"},"transform":[{"filter":"datum.p=='A'"}],"mark":{"type":"area","opacity":0.5,"clip":true},"encoding":{"x":{"field":"x","type":"quantitative","scale":{"domain":[-2.4,72.2],"nice":false,"zero":false},"axis":{"values":[0,10,20,30,40,50,60,70],"format":"d","title":null}},"y":{"field":"lo","type":"quantitative","scale":{"domain":[0.6833,0.765],"nice":false,"zero":false},"axis":{"values":[0.70,0.72,0.74,0.76],"format":".2f","title":null}},"y2":{"field":"hi"},"fill":{"field":"f","type":"nominal","scale":{"domain":["u","e","o"],"range":["#d9c3de","#8db5df","#f19f61"]}}}},
{"data":{"name":"fits"},"transform":[{"filter":"datum.p=='A'"}],"mark":{"type":"line","strokeWidth":1.3,"clip":true},"encoding":{"x":{"field":"x","type":"quantitative"},"y":{"field":"y","type":"quantitative"},"stroke":{"field":"f","type":"nominal","scale":{"domain":["u","e","o"],"range":["#8b3f98","#5b9bd5","#f0902f"]}}}},
{"data":{"name":"ell"},"transform":[{"filter":"datum.p=='A' && datum.i==0"},{"flatten":["px","py"]}],"mark":{"type":"line","interpolate":"cardinal-closed","tension":-0.657,"stroke":"#a8a8a8","strokeWidth":1.2,"clip":true},"encoding":{"x":{"field":"px","type":"quantitative"},"y":{"field":"py","type":"quantitative"},"detail":{"field":"e","type":"nominal"},"order":{"value":null}}},
{"data":{"name":"ell"},"transform":[{"filter":"datum.p=='A' && datum.i==1"},{"flatten":["px","py"]}],"mark":{"type":"line","interpolate":"cardinal-closed","tension":-0.657,"fill":"#b3b3b3","fillOpacity":0.3,"stroke":"#111111","strokeWidth":1.2,"clip":true},"encoding":{"x":{"field":"px","type":"quantitative"},"y":{"field":"py","type":"quantitative"},"detail":{"field":"e","type":"nominal"},"order":{"value":null}}},
{"data":{"name":"ell"},"transform":[{"filter":"datum.p=='A'"}],"mark":{"type":"point","shape":"square","size":4,"filled":true,"color":"#111111","opacity":1,"clip":true},"encoding":{"x":{"field":"x","type":"quantitative"},"y":{"field":"y","type":"quantitative"}}},
{"data":{"name":"txt"},"transform":[{"filter":"datum.p=='A' && datum.k=='name'"}],"mark":{"type":"text","fontSize":22,"align":"left","baseline":"alphabetic","color":"#111111"},"encoding":{"x":{"field":"x","type":"quantitative"},"y":{"field":"y","type":"quantitative"},"text":{"field":"t"}}},
{"data":{"name":"txt"},"transform":[{"filter":"datum.p=='A' && datum.k=='n'"}],"mark":{"type":"text","fontSize":15.5,"align":"left","baseline":"alphabetic","color":"#111111"},"encoding":{"x":{"field":"x","type":"quantitative"},"y":{"field":"y","type":"quantitative"},"text":{"field":"t"}}},
{"data":{"name":"txt"},"transform":[{"filter":"datum.p=='A' && datum.k=='xt'"}],"mark":{"type":"text","fontSize":17,"align":"left","baseline":"alphabetic","color":"#111111"},"encoding":{"x":{"field":"x","type":"quantitative"},"y":{"field":"y","type":"quantitative"},"text":{"field":"t"}}},
{"data":{"name":"txt"},"transform":[{"filter":"datum.p=='A' && datum.k=='yt'"}],"mark":{"type":"text","fontSize":17,"align":"center","baseline":"middle","angle":270,"color":"#111111"},"encoding":{"x":{"field":"x","type":"quantitative"},"y":{"field":"y","type":"quantitative"},"text":{"field":"t"}}},
{"data":{"name":"txt"},"transform":[{"filter":"datum.p=='A' && datum.k=='ann'"}],"mark":{"type":"text","fontSize":16,"align":"right","baseline":"alphabetic"},"encoding":{"x":{"field":"x","type":"quantitative"},"y":{"field":"y","type":"quantitative"},"text":{"field":"t"},"color":{"field":"f","type":"nominal","scale":{"domain":["u","e","o"],"range":["#8e4c9e","#6c9fd9","#f0913a"]}}}},
{"data":{"name":"hl"},"transform":[{"filter":"datum.p=='A'"}],"mark":{"type":"rect","cornerRadius":22,"color":"#ff80ff","opacity":1,"blend":"darken"},"encoding":{"x":{"field":"xl","type":"quantitative"},"x2":{"field":"xh"},"y":{"field":"yl","type":"quantitative"},"y2":{"field":"yh"}}},
{"data":{"name":"txt"},"transform":[{"filter":"datum.p=='A' && datum.k=='box'"}],"mark":{"type":"point","shape":"square","size":400,"filled":true,"fill":"white","stroke":"#111111","strokeWidth":1.3,"opacity":1},"encoding":{"x":{"field":"x","type":"quantitative"},"y":{"field":"y","type":"quantitative"}}},
{"data":{"name":"txt"},"transform":[{"filter":"datum.p=='A' && datum.k=='box'"}],"mark":{"type":"text","fontSize":19,"align":"center","baseline":"middle","dy":1,"color":"#111111"},"encoding":{"x":{"field":"x","type":"quantitative"},"y":{"field":"y","type":"quantitative"},"text":{"field":"t"}}}
]},
{"width":411,"height":411,"layer":[
{"data":{"name":"fits"},"transform":[{"filter":"datum.p=='B'"}],"mark":{"type":"area","opacity":0.5,"clip":true},"encoding":{"x":{"field":"x","type":"quantitative","scale":{"domain":[-3.8,100.1],"nice":false,"zero":false},"axis":{"values":[0,20,40,60,80,100],"format":"d","title":null,"labelFlush":true}},"y":{"field":"lo","type":"quantitative","scale":{"domain":[0.6735,0.8245],"nice":false,"zero":false},"axis":{"values":[0.68,0.70,0.72,0.74,0.76,0.78,0.80,0.82],"format":".2f","title":null}},"y2":{"field":"hi"},"fill":{"field":"f","type":"nominal","scale":{"domain":["u","e","o"],"range":["#d9c3de","#8db5df","#f19f61"]}}}},
{"data":{"name":"fits"},"transform":[{"filter":"datum.p=='B'"}],"mark":{"type":"line","strokeWidth":1.3,"clip":true},"encoding":{"x":{"field":"x","type":"quantitative"},"y":{"field":"y","type":"quantitative"},"stroke":{"field":"f","type":"nominal","scale":{"domain":["u","e","o"],"range":["#8b3f98","#5b9bd5","#f0902f"]}}}},
{"data":{"name":"ell"},"transform":[{"filter":"datum.p=='B' && datum.i==0"},{"flatten":["px","py"]}],"mark":{"type":"line","interpolate":"cardinal-closed","tension":-0.657,"stroke":"#a8a8a8","strokeWidth":1.2,"clip":true},"encoding":{"x":{"field":"px","type":"quantitative"},"y":{"field":"py","type":"quantitative"},"detail":{"field":"e","type":"nominal"},"order":{"value":null}}},
{"data":{"name":"ell"},"transform":[{"filter":"datum.p=='B' && datum.i==1"},{"flatten":["px","py"]}],"mark":{"type":"line","interpolate":"cardinal-closed","tension":-0.657,"fill":"#b3b3b3","fillOpacity":0.3,"stroke":"#111111","strokeWidth":1.2,"clip":true},"encoding":{"x":{"field":"px","type":"quantitative"},"y":{"field":"py","type":"quantitative"},"detail":{"field":"e","type":"nominal"},"order":{"value":null}}},
{"data":{"name":"ell"},"transform":[{"filter":"datum.p=='B'"}],"mark":{"type":"point","shape":"square","size":4,"filled":true,"color":"#111111","opacity":1,"clip":true},"encoding":{"x":{"field":"x","type":"quantitative"},"y":{"field":"y","type":"quantitative"}}},
{"data":{"name":"txt"},"transform":[{"filter":"datum.p=='B' && datum.k=='name'"}],"mark":{"type":"text","fontSize":22,"align":"left","baseline":"alphabetic","color":"#111111"},"encoding":{"x":{"field":"x","type":"quantitative"},"y":{"field":"y","type":"quantitative"},"text":{"field":"t"}}},
{"data":{"name":"txt"},"transform":[{"filter":"datum.p=='B' && datum.k=='n'"}],"mark":{"type":"text","fontSize":15.5,"align":"left","baseline":"alphabetic","color":"#111111"},"encoding":{"x":{"field":"x","type":"quantitative"},"y":{"field":"y","type":"quantitative"},"text":{"field":"t"}}},
{"data":{"name":"txt"},"transform":[{"filter":"datum.p=='B' && datum.k=='xt'"}],"mark":{"type":"text","fontSize":17,"align":"left","baseline":"alphabetic","color":"#111111"},"encoding":{"x":{"field":"x","type":"quantitative"},"y":{"field":"y","type":"quantitative"},"text":{"field":"t"}}},
{"data":{"name":"txt"},"transform":[{"filter":"datum.p=='B' && datum.k=='yt'"}],"mark":{"type":"text","fontSize":17,"align":"center","baseline":"middle","angle":270,"color":"#111111"},"encoding":{"x":{"field":"x","type":"quantitative"},"y":{"field":"y","type":"quantitative"},"text":{"field":"t"}}},
{"data":{"name":"txt"},"transform":[{"filter":"datum.p=='B' && datum.k=='ann'"}],"mark":{"type":"text","fontSize":16,"align":"right","baseline":"alphabetic"},"encoding":{"x":{"field":"x","type":"quantitative"},"y":{"field":"y","type":"quantitative"},"text":{"field":"t"},"color":{"field":"f","type":"nominal","scale":{"domain":["u","e","o"],"range":["#8e4c9e","#6c9fd9","#f0913a"]}}}},
{"data":{"name":"txt"},"transform":[{"filter":"datum.p=='B' && datum.k=='box'"}],"mark":{"type":"point","shape":"square","size":400,"filled":true,"fill":"white","stroke":"#111111","strokeWidth":1.3,"opacity":1},"encoding":{"x":{"field":"x","type":"quantitative"},"y":{"field":"y","type":"quantitative"}}},
{"data":{"name":"txt"},"transform":[{"filter":"datum.p=='B' && datum.k=='box'"}],"mark":{"type":"text","fontSize":19,"align":"center","baseline":"middle","dy":1,"color":"#111111"},"encoding":{"x":{"field":"x","type":"quantitative"},"y":{"field":"y","type":"quantitative"},"text":{"field":"t"}}}
]},
{"width":411,"height":411,"layer":[
{"data":{"name":"fits"},"transform":[{"filter":"datum.p=='C'"}],"mark":{"type":"area","opacity":0.5,"clip":true},"encoding":{"x":{"field":"x","type":"quantitative","scale":{"domain":[-3.8,99.4],"nice":false,"zero":false},"axis":{"values":[0,20,40,60,80],"format":"d","title":null}},"y":{"field":"lo","type":"quantitative","scale":{"domain":[0.6901,0.8127],"nice":false,"zero":false},"axis":{"values":[0.70,0.72,0.74,0.76,0.78,0.80],"format":".2f","title":null}},"y2":{"field":"hi"},"fill":{"field":"f","type":"nominal","scale":{"domain":["u","e","o"],"range":["#d9c3de","#8db5df","#f19f61"]}}}},
{"data":{"name":"fits"},"transform":[{"filter":"datum.p=='C'"}],"mark":{"type":"line","strokeWidth":1.3,"clip":true},"encoding":{"x":{"field":"x","type":"quantitative"},"y":{"field":"y","type":"quantitative"},"stroke":{"field":"f","type":"nominal","scale":{"domain":["u","e","o"],"range":["#8b3f98","#5b9bd5","#f0902f"]}}}},
{"data":{"name":"ell"},"transform":[{"filter":"datum.p=='C' && datum.i==0"},{"flatten":["px","py"]}],"mark":{"type":"line","interpolate":"cardinal-closed","tension":-0.657,"stroke":"#a8a8a8","strokeWidth":1.2,"clip":true},"encoding":{"x":{"field":"px","type":"quantitative"},"y":{"field":"py","type":"quantitative"},"detail":{"field":"e","type":"nominal"},"order":{"value":null}}},
{"data":{"name":"ell"},"transform":[{"filter":"datum.p=='C' && datum.i==1"},{"flatten":["px","py"]}],"mark":{"type":"line","interpolate":"cardinal-closed","tension":-0.657,"fill":"#b3b3b3","fillOpacity":0.3,"stroke":"#111111","strokeWidth":1.2,"clip":true},"encoding":{"x":{"field":"px","type":"quantitative"},"y":{"field":"py","type":"quantitative"},"detail":{"field":"e","type":"nominal"},"order":{"value":null}}},
{"data":{"name":"ell"},"transform":[{"filter":"datum.p=='C'"}],"mark":{"type":"point","shape":"square","size":4,"filled":true,"color":"#111111","opacity":1,"clip":true},"encoding":{"x":{"field":"x","type":"quantitative"},"y":{"field":"y","type":"quantitative"}}},
{"data":{"name":"txt"},"transform":[{"filter":"datum.p=='C' && datum.k=='name'"}],"mark":{"type":"text","fontSize":22,"align":"left","baseline":"alphabetic","color":"#111111"},"encoding":{"x":{"field":"x","type":"quantitative"},"y":{"field":"y","type":"quantitative"},"text":{"field":"t"}}},
{"data":{"name":"txt"},"transform":[{"filter":"datum.p=='C' && datum.k=='n'"}],"mark":{"type":"text","fontSize":15.5,"align":"left","baseline":"alphabetic","color":"#111111"},"encoding":{"x":{"field":"x","type":"quantitative"},"y":{"field":"y","type":"quantitative"},"text":{"field":"t"}}},
{"data":{"name":"txt"},"transform":[{"filter":"datum.p=='C' && datum.k=='xt'"}],"mark":{"type":"text","fontSize":17,"align":"left","baseline":"alphabetic","color":"#111111"},"encoding":{"x":{"field":"x","type":"quantitative"},"y":{"field":"y","type":"quantitative"},"text":{"field":"t"}}},
{"data":{"name":"txt"},"transform":[{"filter":"datum.p=='C' && datum.k=='yt'"}],"mark":{"type":"text","fontSize":17,"align":"center","baseline":"middle","angle":270,"color":"#111111"},"encoding":{"x":{"field":"x","type":"quantitative"},"y":{"field":"y","type":"quantitative"},"text":{"field":"t"}}},
{"data":{"name":"txt"},"transform":[{"filter":"datum.p=='C' && datum.k=='ann'"}],"mark":{"type":"text","fontSize":16,"align":"right","baseline":"alphabetic"},"encoding":{"x":{"field":"x","type":"quantitative"},"y":{"field":"y","type":"quantitative"},"text":{"field":"t"},"color":{"field":"f","type":"nominal","scale":{"domain":["u","e","o"],"range":["#8e4c9e","#6c9fd9","#f0913a"]}}}},
{"data":{"name":"txt"},"transform":[{"filter":"datum.p=='C' && datum.k=='box'"}],"mark":{"type":"point","shape":"square","size":400,"filled":true,"fill":"white","stroke":"#111111","strokeWidth":1.3,"opacity":1},"encoding":{"x":{"field":"x","type":"quantitative"},"y":{"field":"y","type":"quantitative"}}},
{"data":{"name":"txt"},"transform":[{"filter":"datum.p=='C' && datum.k=='box'"}],"mark":{"type":"text","fontSize":19,"align":"center","baseline":"middle","dy":1,"color":"#111111"},"encoding":{"x":{"field":"x","type":"quantitative"},"y":{"field":"y","type":"quantitative"},"text":{"field":"t"}}}
]},
{"width":411,"height":411,"layer":[
{"data":{"name":"fits"},"transform":[{"filter":"datum.p=='D'"}],"mark":{"type":"area","opacity":0.5,"clip":true},"encoding":{"x":{"field":"x","type":"quantitative","scale":{"domain":[-29,767],"nice":false,"zero":false},"axis":{"values":[0,200,400,600],"format":"d","title":null}},"y":{"field":"lo","type":"quantitative","scale":{"domain":[0.658,1.2023],"nice":false,"zero":false},"axis":{"values":[0.7,0.8,0.9,1.0,1.1,1.2],"format":".1f","title":null}},"y2":{"field":"hi"},"fill":{"field":"f","type":"nominal","scale":{"domain":["u","e","o"],"range":["#d9c3de","#8db5df","#f19f61"]}}}},
{"data":{"name":"fits"},"transform":[{"filter":"datum.p=='D'"}],"mark":{"type":"line","strokeWidth":1.3,"clip":true},"encoding":{"x":{"field":"x","type":"quantitative"},"y":{"field":"y","type":"quantitative"},"stroke":{"field":"f","type":"nominal","scale":{"domain":["u","e","o"],"range":["#8b3f98","#5b9bd5","#f0902f"]}}}},
{"data":{"name":"ell"},"transform":[{"filter":"datum.p=='D' && datum.i==0"},{"flatten":["px","py"]}],"mark":{"type":"line","interpolate":"cardinal-closed","tension":-0.657,"stroke":"#a8a8a8","strokeWidth":1.2,"clip":true},"encoding":{"x":{"field":"px","type":"quantitative"},"y":{"field":"py","type":"quantitative"},"detail":{"field":"e","type":"nominal"},"order":{"value":null}}},
{"data":{"name":"ell"},"transform":[{"filter":"datum.p=='D' && datum.i==1"},{"flatten":["px","py"]}],"mark":{"type":"line","interpolate":"cardinal-closed","tension":-0.657,"fill":"#b3b3b3","fillOpacity":0.3,"stroke":"#111111","strokeWidth":1.2,"clip":true},"encoding":{"x":{"field":"px","type":"quantitative"},"y":{"field":"py","type":"quantitative"},"detail":{"field":"e","type":"nominal"},"order":{"value":null}}},
{"data":{"name":"ell"},"transform":[{"filter":"datum.p=='D'"}],"mark":{"type":"point","shape":"square","size":4,"filled":true,"color":"#111111","opacity":1,"clip":true},"encoding":{"x":{"field":"x","type":"quantitative"},"y":{"field":"y","type":"quantitative"}}},
{"data":{"name":"txt"},"transform":[{"filter":"datum.p=='D' && datum.k=='name'"}],"mark":{"type":"text","fontSize":22,"align":"left","baseline":"alphabetic","color":"#111111"},"encoding":{"x":{"field":"x","type":"quantitative"},"y":{"field":"y","type":"quantitative"},"text":{"field":"t"}}},
{"data":{"name":"txt"},"transform":[{"filter":"datum.p=='D' && datum.k=='n'"}],"mark":{"type":"text","fontSize":15.5,"align":"left","baseline":"alphabetic","color":"#111111"},"encoding":{"x":{"field":"x","type":"quantitative"},"y":{"field":"y","type":"quantitative"},"text":{"field":"t"}}},
{"data":{"name":"txt"},"transform":[{"filter":"datum.p=='D' && datum.k=='xt'"}],"mark":{"type":"text","fontSize":17,"align":"left","baseline":"alphabetic","color":"#111111"},"encoding":{"x":{"field":"x","type":"quantitative"},"y":{"field":"y","type":"quantitative"},"text":{"field":"t"}}},
{"data":{"name":"txt"},"transform":[{"filter":"datum.p=='D' && datum.k=='yt'"}],"mark":{"type":"text","fontSize":17,"align":"center","baseline":"middle","angle":270,"color":"#111111"},"encoding":{"x":{"field":"x","type":"quantitative"},"y":{"field":"y","type":"quantitative"},"text":{"field":"t"}}},
{"data":{"name":"txt"},"transform":[{"filter":"datum.p=='D' && datum.k=='ann'"}],"mark":{"type":"text","fontSize":16,"align":"right","baseline":"alphabetic"},"encoding":{"x":{"field":"x","type":"quantitative"},"y":{"field":"y","type":"quantitative"},"text":{"field":"t"},"color":{"field":"f","type":"nominal","scale":{"domain":["u","e","o"],"range":["#8e4c9e","#6c9fd9","#f0913a"]}}}},
{"data":{"name":"txt"},"transform":[{"filter":"datum.p=='D' && datum.k=='box'"}],"mark":{"type":"point","shape":"square","size":400,"filled":true,"fill":"white","stroke":"#111111","strokeWidth":1.3,"opacity":1},"encoding":{"x":{"field":"x","type":"quantitative"},"y":{"field":"y","type":"quantitative"}}},
{"data":{"name":"txt"},"transform":[{"filter":"datum.p=='D' && datum.k=='box'"}],"mark":{"type":"text","fontSize":19,"align":"center","baseline":"middle","dy":1,"color":"#111111"},"encoding":{"x":{"field":"x","type":"quantitative"},"y":{"field":"y","type":"quantitative"},"text":{"field":"t"}}}
]},
{"width":411,"height":411,"layer":[
{"data":{"name":"fits"},"transform":[{"filter":"datum.p=='E'"}],"mark":{"type":"area","opacity":0.5,"clip":true},"encoding":{"x":{"field":"x","type":"quantitative","scale":{"domain":[-8.7,218.5],"nice":false,"zero":false},"axis":{"values":[0,50,100,150,200],"format":"d","title":null}},"y":{"field":"lo","type":"quantitative","scale":{"domain":[0.6214,0.8979],"nice":false,"zero":false},"axis":{"values":[0.65,0.70,0.75,0.80,0.85],"format":".2f","title":null}},"y2":{"field":"hi"},"fill":{"field":"f","type":"nominal","scale":{"domain":["u","e","o"],"range":["#d9c3de","#8db5df","#f19f61"]}}}},
{"data":{"name":"fits"},"transform":[{"filter":"datum.p=='E'"}],"mark":{"type":"line","strokeWidth":1.3,"clip":true},"encoding":{"x":{"field":"x","type":"quantitative"},"y":{"field":"y","type":"quantitative"},"stroke":{"field":"f","type":"nominal","scale":{"domain":["u","e","o"],"range":["#8b3f98","#5b9bd5","#f0902f"]}}}},
{"data":{"name":"ell"},"transform":[{"filter":"datum.p=='E' && datum.i==0"},{"flatten":["px","py"]}],"mark":{"type":"line","interpolate":"cardinal-closed","tension":-0.657,"stroke":"#a8a8a8","strokeWidth":1.2,"clip":true},"encoding":{"x":{"field":"px","type":"quantitative"},"y":{"field":"py","type":"quantitative"},"detail":{"field":"e","type":"nominal"},"order":{"value":null}}},
{"data":{"name":"ell"},"transform":[{"filter":"datum.p=='E' && datum.i==1"},{"flatten":["px","py"]}],"mark":{"type":"line","interpolate":"cardinal-closed","tension":-0.657,"fill":"#b3b3b3","fillOpacity":0.3,"stroke":"#111111","strokeWidth":1.2,"clip":true},"encoding":{"x":{"field":"px","type":"quantitative"},"y":{"field":"py","type":"quantitative"},"detail":{"field":"e","type":"nominal"},"order":{"value":null}}},
{"data":{"name":"ell"},"transform":[{"filter":"datum.p=='E'"}],"mark":{"type":"point","shape":"square","size":4,"filled":true,"color":"#111111","opacity":1,"clip":true},"encoding":{"x":{"field":"x","type":"quantitative"},"y":{"field":"y","type":"quantitative"}}},
{"data":{"name":"txt"},"transform":[{"filter":"datum.p=='E' && datum.k=='name'"}],"mark":{"type":"text","fontSize":22,"align":"left","baseline":"alphabetic","color":"#111111"},"encoding":{"x":{"field":"x","type":"quantitative"},"y":{"field":"y","type":"quantitative"},"text":{"field":"t"}}},
{"data":{"name":"txt"},"transform":[{"filter":"datum.p=='E' && datum.k=='n'"}],"mark":{"type":"text","fontSize":15.5,"align":"left","baseline":"alphabetic","color":"#111111"},"encoding":{"x":{"field":"x","type":"quantitative"},"y":{"field":"y","type":"quantitative"},"text":{"field":"t"}}},
{"data":{"name":"txt"},"transform":[{"filter":"datum.p=='E' && datum.k=='xt'"}],"mark":{"type":"text","fontSize":17,"align":"left","baseline":"alphabetic","color":"#111111"},"encoding":{"x":{"field":"x","type":"quantitative"},"y":{"field":"y","type":"quantitative"},"text":{"field":"t"}}},
{"data":{"name":"txt"},"transform":[{"filter":"datum.p=='E' && datum.k=='yt'"}],"mark":{"type":"text","fontSize":17,"align":"center","baseline":"middle","angle":270,"color":"#111111"},"encoding":{"x":{"field":"x","type":"quantitative"},"y":{"field":"y","type":"quantitative"},"text":{"field":"t"}}},
{"data":{"name":"txt"},"transform":[{"filter":"datum.p=='E' && datum.k=='ann'"}],"mark":{"type":"text","fontSize":16,"align":"right","baseline":"alphabetic"},"encoding":{"x":{"field":"x","type":"quantitative"},"y":{"field":"y","type":"quantitative"},"text":{"field":"t"},"color":{"field":"f","type":"nominal","scale":{"domain":["u","e","o"],"range":["#8e4c9e","#6c9fd9","#f0913a"]}}}},
{"data":{"name":"hl"},"transform":[{"filter":"datum.p=='E'"}],"mark":{"type":"rect","cornerRadius":22,"color":"#ff80ff","opacity":1,"blend":"darken"},"encoding":{"x":{"field":"xl","type":"quantitative"},"x2":{"field":"xh"},"y":{"field":"yl","type":"quantitative"},"y2":{"field":"yh"}}},
{"data":{"name":"txt"},"transform":[{"filter":"datum.p=='E' && datum.k=='box'"}],"mark":{"type":"point","shape":"square","size":400,"filled":true,"fill":"white","stroke":"#111111","strokeWidth":1.3,"opacity":1},"encoding":{"x":{"field":"x","type":"quantitative"},"y":{"field":"y","type":"quantitative"}}},
{"data":{"name":"txt"},"transform":[{"filter":"datum.p=='E' && datum.k=='box'"}],"mark":{"type":"text","fontSize":19,"align":"center","baseline":"middle","dy":1,"color":"#111111"},"encoding":{"x":{"field":"x","type":"quantitative"},"y":{"field":"y","type":"quantitative"},"text":{"field":"t"}}}
]},
{"width":411,"height":411,"layer":[
{"data":{"name":"fits"},"transform":[{"filter":"datum.p=='F'"}],"mark":{"type":"area","opacity":0.5,"clip":true},"encoding":{"x":{"field":"x","type":"quantitative","scale":{"domain":[-5.1,135.8],"nice":false,"zero":false},"axis":{"values":[0,20,40,60,80,100,120],"format":"d","title":null}},"y":{"field":"lo","type":"quantitative","scale":{"domain":[0.6625,0.7998],"nice":false,"zero":false},"axis":{"values":[0.68,0.70,0.72,0.74,0.76,0.78],"format":".2f","title":null}},"y2":{"field":"hi"},"fill":{"field":"f","type":"nominal","scale":{"domain":["u","e","o"],"range":["#d9c3de","#8db5df","#f19f61"]}}}},
{"data":{"name":"fits"},"transform":[{"filter":"datum.p=='F'"}],"mark":{"type":"line","strokeWidth":1.3,"clip":true},"encoding":{"x":{"field":"x","type":"quantitative"},"y":{"field":"y","type":"quantitative"},"stroke":{"field":"f","type":"nominal","scale":{"domain":["u","e","o"],"range":["#8b3f98","#5b9bd5","#f0902f"]}}}},
{"data":{"name":"ell"},"transform":[{"filter":"datum.p=='F' && datum.i==0"},{"flatten":["px","py"]}],"mark":{"type":"line","interpolate":"cardinal-closed","tension":-0.657,"stroke":"#a8a8a8","strokeWidth":1.2,"clip":true},"encoding":{"x":{"field":"px","type":"quantitative"},"y":{"field":"py","type":"quantitative"},"detail":{"field":"e","type":"nominal"},"order":{"value":null}}},
{"data":{"name":"ell"},"transform":[{"filter":"datum.p=='F' && datum.i==1"},{"flatten":["px","py"]}],"mark":{"type":"line","interpolate":"cardinal-closed","tension":-0.657,"fill":"#b3b3b3","fillOpacity":0.3,"stroke":"#111111","strokeWidth":1.2,"clip":true},"encoding":{"x":{"field":"px","type":"quantitative"},"y":{"field":"py","type":"quantitative"},"detail":{"field":"e","type":"nominal"},"order":{"value":null}}},
{"data":{"name":"ell"},"transform":[{"filter":"datum.p=='F'"}],"mark":{"type":"point","shape":"square","size":4,"filled":true,"color":"#111111","opacity":1,"clip":true},"encoding":{"x":{"field":"x","type":"quantitative"},"y":{"field":"y","type":"quantitative"}}},
{"data":{"name":"txt"},"transform":[{"filter":"datum.p=='F' && datum.k=='name'"}],"mark":{"type":"text","fontSize":22,"align":"left","baseline":"alphabetic","color":"#111111"},"encoding":{"x":{"field":"x","type":"quantitative"},"y":{"field":"y","type":"quantitative"},"text":{"field":"t"}}},
{"data":{"name":"txt"},"transform":[{"filter":"datum.p=='F' && datum.k=='n'"}],"mark":{"type":"text","fontSize":15.5,"align":"left","baseline":"alphabetic","color":"#111111"},"encoding":{"x":{"field":"x","type":"quantitative"},"y":{"field":"y","type":"quantitative"},"text":{"field":"t"}}},
{"data":{"name":"txt"},"transform":[{"filter":"datum.p=='F' && datum.k=='xt'"}],"mark":{"type":"text","fontSize":17,"align":"left","baseline":"alphabetic","color":"#111111"},"encoding":{"x":{"field":"x","type":"quantitative"},"y":{"field":"y","type":"quantitative"},"text":{"field":"t"}}},
{"data":{"name":"txt"},"transform":[{"filter":"datum.p=='F' && datum.k=='yt'"}],"mark":{"type":"text","fontSize":17,"align":"center","baseline":"middle","angle":270,"color":"#111111"},"encoding":{"x":{"field":"x","type":"quantitative"},"y":{"field":"y","type":"quantitative"},"text":{"field":"t"}}},
{"data":{"name":"txt"},"transform":[{"filter":"datum.p=='F' && datum.k=='ann'"}],"mark":{"type":"text","fontSize":16,"align":"right","baseline":"alphabetic"},"encoding":{"x":{"field":"x","type":"quantitative"},"y":{"field":"y","type":"quantitative"},"text":{"field":"t"},"color":{"field":"f","type":"nominal","scale":{"domain":["u","e","o"],"range":["#8e4c9e","#6c9fd9","#f0913a"]}}}},
{"data":{"name":"txt"},"transform":[{"filter":"datum.p=='F' && datum.k=='box'"}],"mark":{"type":"point","shape":"square","size":400,"filled":true,"fill":"white","stroke":"#111111","strokeWidth":1.3,"opacity":1},"encoding":{"x":{"field":"x","type":"quantitative"},"y":{"field":"y","type":"quantitative"}}},
{"data":{"name":"txt"},"transform":[{"filter":"datum.p=='F' && datum.k=='box'"}],"mark":{"type":"text","fontSize":19,"align":"center","baseline":"middle","dy":1,"color":"#111111"},"encoding":{"x":{"field":"x","type":"quantitative"},"y":{"field":"y","type":"quantitative"},"text":{"field":"t"}}}
]}
],
"config": {
"font": "Lato",
"view": {"stroke": "#1a1a1a", "strokeWidth": 1.5},
"axis": {"domain": false, "grid": false, "ticks": true, "tickSize": 6, "tickColor": "#1a1a1a", "tickWidth": 1.2, "labelFont": "Lato", "labelFontSize": 13, "labelColor": "#1a1a1a", "labelPadding": 12, "labelFlush": false, "labelOverlap": false, "title": null},
"legend": {"disable": true},
"text": {"font": "Lato"}
}
}
